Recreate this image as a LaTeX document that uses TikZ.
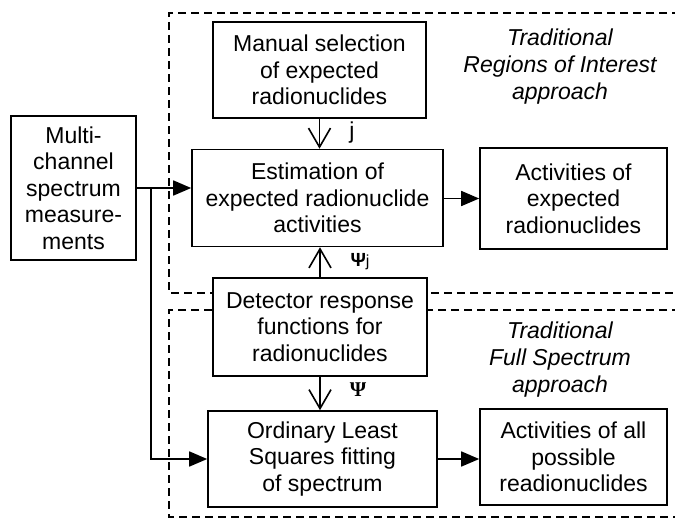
\documentclass[tikz,border=0pt]{standalone}
\usepackage{fontspec}
\setmainfont{Liberation Sans}
\newfontfamily\greekserif{Liberation Serif}
\usetikzlibrary{arrows.meta}

\tikzset{
  box/.style={draw, fill=white, line width=1.6pt, align=center, inner sep=0pt},
  region/.style={line width=1.6pt, dash pattern=on 8pt off 5pt},
  feed/.style={line width=1.6pt, -{Triangle[length=18pt,width=15pt]}},
  pass/.style={line width=1.6pt, -{Straight Barb[length=19pt,width=22pt]}},
  note/.style={font=\fontsize{23}{27}\selectfont\itshape, align=center}
}

\begin{document}
\begin{tikzpicture}[x=1pt, y=-1pt, font=\fontsize{23}{26.5}\selectfont]
    \useasboundingbox (0,0) rectangle (675,522);
    % dashed approach regions
    \draw[region] (680,13) -- (169,13) -- (169,293) -- (680,293);
    \draw[region] (680,310) -- (169,310) -- (169,517) -- (680,517);

    \node[box, minimum width=125pt, minimum height=144pt] (multi) at (73.5,188) {Multi-\\channel\\spectrum\\measure-\\ments};
    \node[box, minimum width=213pt, minimum height=96pt] (manual) at (319.5,70) {Manual selection\\of expected\\radionuclides};
    \node[box, minimum width=251pt, minimum height=97pt] (est) at (317.5,198) {Estimation of\\expected radionuclide\\activities};
    \node[box, minimum width=187pt, minimum height=101pt] (actexp) at (573.5,198.5) {Activities of\\expected\\radionuclides};
    \node[box, minimum width=214pt, minimum height=98pt] (det) at (320,327) {Detector response\\functions for\\radionuclides};
    \node[box, minimum width=229pt, minimum height=96pt] (ols) at (322.5,459) {Ordinary Least\\Squares fitting\\of spectrum};
    \node[box, minimum width=187pt, minimum height=96pt] (actall) at (573.5,457) {Activities of all\\possible\\readionuclides};

    \node[note] (roi) at (560,67) {Traditional\\Regions of Interest\\approach};
    \node[note] (full) at (560,360) {Traditional\\Full Spectrum\\approach};

    % connectors
    \path (multi.east) ++(14,0) coordinate (split);
    \draw[feed] (multi.east) -- (multi.east -| est.west);
    \draw[feed] (split) |- (ols.west);
    \draw[feed] (est.east |- actexp) -- (actexp.west);
    \draw[feed] (ols.east) -- (ols.east -| actall.west);
    \draw[pass] (manual.south) -- (manual.south |- est.north);
    \draw[pass] (det.north) -- (det.north |- est.south);
    \draw[pass] (det.south) -- (det.south |- ols.north);

    % labels
    \node (jlbl) at (352,133) {j};
    \node (psij) at (360,262) {\fontsize{19}{19}\selectfont\bfseries Ψ\fontsize{16}{16}\mdseries j};
    \node[font=\fontsize{21}{21}\selectfont\greekserif\bfseries] (psi) at (358,390) {Ψ};
\end{tikzpicture}
\end{document}
